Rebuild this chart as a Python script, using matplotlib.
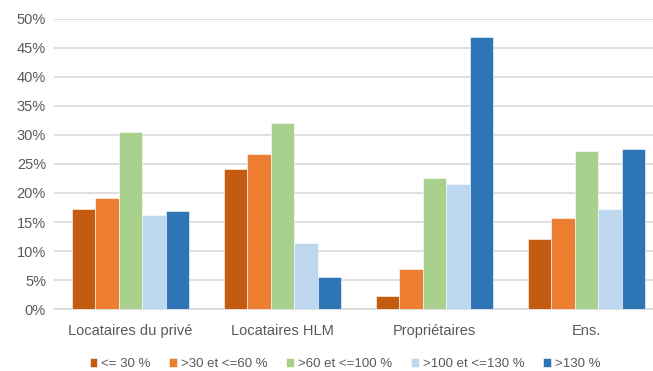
import numpy as np
import matplotlib
matplotlib.use("Agg")
import matplotlib.pyplot as plt
from matplotlib.ticker import PercentFormatter

plt.rcParams['font.family'] = ['Liberation Sans', 'DejaVu Sans']

categories = ["Locataires du privé", "Locataires HLM", "Propriétaires", "Ens."]
series_names = ["<= 30 %", ">30 et <=60 %", ">60 et <=100 %", ">100 et <=130 %", ">130 %"]
le_30 = [17.2, 24.1, 2.2, 12.1]
de_30_60 = [19.2, 26.8, 6.9, 15.7]
de_60_100 = [30.5, 32.1, 22.6, 27.3]
de_100_130 = [16.2, 11.3, 21.6, 17.3]
gt_130 = [16.9, 5.6, 46.8, 27.6]
series = [le_30, de_30_60, de_60_100, de_100_130, gt_130]
colors = ["#C55A11", "#ED7D31", "#A9D18E", "#BDD7EE", "#2E75B6"]

fig = plt.figure(figsize=(6.53, 3.71), dpi=100)
ax = fig.add_axes([0.0832, 0.167, 0.9316, 0.782])

x = np.arange(len(categories))
n = len(series)
bw = 0.154
for i, (vals, c, name) in enumerate(zip(series, colors, series_names)):
    ax.bar(x + (i - (n - 1) / 2) * bw, vals, bw, color=c, label=name,
           edgecolor="white", linewidth=0.4, zorder=3)

ax.set_xlim(-0.5, len(categories) - 0.5)
ax.set_ylim(0, 50)
ax.set_yticks(np.arange(0, 51, 5))
ax.yaxis.set_major_formatter(PercentFormatter(decimals=0))
ax.grid(axis="y", color="#D9D9D9", linewidth=1.2, zorder=0)
for s in ["top", "right", "left"]:
    ax.spines[s].set_visible(False)
ax.spines["bottom"].set_color("#D9D9D9")
ax.spines["bottom"].set_linewidth(1.2)
ax.set_xticks(x)
ax.set_xticklabels(categories)
ax.tick_params(axis="both", length=0, colors="#595959", labelsize=10.5)
ax.tick_params(axis="x", pad=11)
ax.tick_params(axis="y", pad=6)

leg = fig.legend(loc="lower center", bbox_to_anchor=(0.528, -0.03), ncol=5,
                 frameon=False, fontsize=9.5, handlelength=0.6, handleheight=0.6,
                 handletextpad=0.3, columnspacing=1.4)
for t in leg.get_texts():
    t.set_color("#595959")

fig.savefig("out.png", dpi=100)
